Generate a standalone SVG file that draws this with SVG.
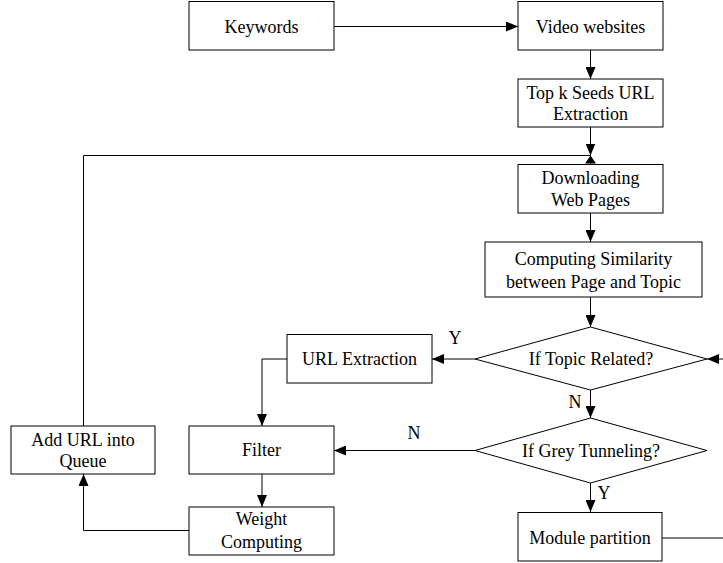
<svg xmlns="http://www.w3.org/2000/svg" width="723" height="563" viewBox="0 0 723 563">
<style>
.box{fill:#fff;stroke:#000;stroke-width:1}
.ln{fill:none;stroke:#000;stroke-width:1}
text{font-family:'Liberation Serif','Times New Roman',serif;font-size:18px;fill:#000;text-anchor:middle}
</style>
<defs>
<marker id="ah" markerWidth="12" markerHeight="10" refX="12" refY="5" orient="auto" markerUnits="userSpaceOnUse">
<path d="M0,0 L12,5 L0,10 Z" fill="#000"/>
</marker>
</defs>
<rect width="723" height="563" fill="#fff"/>
<g id="connectors">
<line class="ln" x1="334" y1="26.5" x2="518" y2="26.5" marker-end="url(#ah)"/>
<line class="ln" x1="590.5" y1="50" x2="590.5" y2="79" marker-end="url(#ah)"/>
<line class="ln" x1="590.5" y1="127" x2="590.5" y2="155.5" marker-end="url(#ah)"/>
<polyline class="ln" points="83.5,426 83.5,155.5 590.5,155.5 590.5,164"/>
<polygon points="590.5,155.5 585,163.5 596,163.5" fill="#000"/>
<line class="ln" x1="590.5" y1="213" x2="590.5" y2="242" marker-end="url(#ah)"/>
<line class="ln" x1="590.5" y1="297" x2="590.5" y2="327" marker-end="url(#ah)"/>
<line class="ln" x1="475" y1="359" x2="432" y2="359" marker-end="url(#ah)"/>
<polyline class="ln" points="287,359 262,359 262,426" marker-end="url(#ah)"/>
<line class="ln" x1="590.5" y1="390" x2="590.5" y2="418" marker-end="url(#ah)"/>
<line class="ln" x1="475" y1="450.5" x2="334" y2="450.5" marker-end="url(#ah)"/>
<line class="ln" x1="590.5" y1="483" x2="590.5" y2="512" marker-end="url(#ah)"/>
<polyline class="ln" points="662,538 730,538 730,359 707,359" marker-end="url(#ah)"/>
<line class="ln" x1="262" y1="474" x2="262" y2="507" marker-end="url(#ah)"/>
<polyline class="ln" points="189,530.5 83.5,530.5 83.5,474" marker-end="url(#ah)"/>
</g>
<g id="keywords"><rect class="box" x="189" y="1.5" width="145" height="48.5"/><text x="261.5" y="32.5">Keywords</text></g>
<g id="video"><rect class="box" x="518" y="1.5" width="145" height="48.5"/><text x="590.5" y="32.5">Video websites</text></g>
<g id="topk"><rect class="box" x="518" y="79" width="145" height="48"/><text x="590.5" y="99">Top k Seeds URL</text><text x="590.5" y="119.5">Extraction</text></g>
<g id="download"><rect class="box" x="518" y="164.5" width="145" height="48.5"/><text x="590.5" y="184">Downloading</text><text x="590.5" y="206">Web Pages</text></g>
<g id="similarity"><rect class="box" x="485" y="242" width="217" height="55"/><text x="593.5" y="265">Computing Similarity</text><text x="593.5" y="287.5">between Page and Topic</text></g>
<g id="topic"><polygon class="box" points="590.5,327 707,359 590.5,390 475,359"/><text x="591" y="365">If Topic Related?</text></g>
<g id="urlext"><rect class="box" x="287" y="334.5" width="145" height="48.5"/><text x="359.5" y="365">URL Extraction</text></g>
<g id="grey"><polygon class="box" points="590.5,418 707,450.5 590.5,483 475,450.5"/><text x="591" y="456.5">If Grey Tunneling?</text></g>
<g id="filter"><rect class="box" x="189" y="426" width="145" height="48"/><text x="261.5" y="456">Filter</text></g>
<g id="weight"><rect class="box" x="189" y="507" width="145" height="48"/><text x="261.5" y="525">Weight</text><text x="261.5" y="548">Computing</text></g>
<g id="addurl"><rect class="box" x="11" y="426" width="144" height="48"/><text x="83" y="446">Add URL into</text><text x="83" y="467">Queue</text></g>
<g id="module"><rect class="box" x="518" y="512.5" width="144" height="48.5"/><text x="590" y="544">Module partition</text></g>
<g id="labels">
<text x="455" y="344">Y</text>
<text x="575" y="408">N</text>
<text x="414" y="439">N</text>
<text x="604" y="499">Y</text>
</g>
</svg>
